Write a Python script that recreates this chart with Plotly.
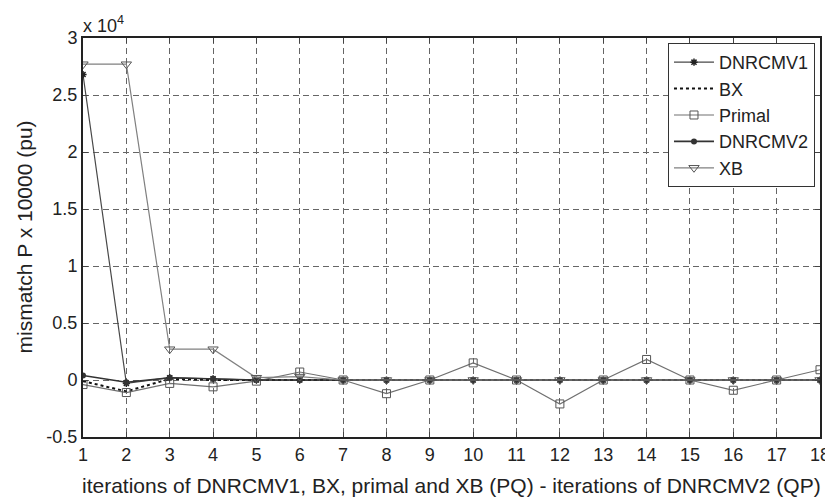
import plotly.graph_objects as go

iterations = list(range(1, 19))
dnrcmv1 = [2.68, -0.03, 0.02, 0.01, 0.0, 0.0, 0.0, 0.0, 0.0, 0.0, 0.0, 0.0, 0.0, 0.0, 0.0, 0.0, 0.0, 0.0]
bx = [-0.01, -0.10, 0.01, 0.0, 0.0, 0.0, 0.0, 0.0, 0.0, 0.0, 0.0, 0.0, 0.0, 0.0, 0.0, 0.0, 0.0, 0.0]
primal = [-0.04, -0.11, -0.03, -0.06, -0.01, 0.07, 0.0, -0.12, 0.0, 0.15, 0.0, -0.21, 0.0, 0.18, 0.0, -0.09, 0.0, 0.09]
dnrcmv2 = [0.04, -0.02, 0.02, 0.01, 0.0, 0.0, 0.0, 0.0, 0.0, 0.0, 0.0, 0.0, 0.0, 0.0, 0.0, 0.0, 0.0, 0.0]
xb = [2.77, 2.77, 0.27, 0.27, 0.02, 0.03, 0.0, 0.0, 0.0, 0.0, 0.0, 0.0, 0.0, 0.0, 0.0, 0.0, 0.0, 0.0]

y_ticks = [-0.5, 0, 0.5, 1, 1.5, 2, 2.5, 3]
y_tick_text = ["-0.5", "0", "0.5", "1", "1.5", "2", "2.5", "3"]

FONT = "Liberation Sans, Arial, sans-serif"
TXT = "#222222"

fig = go.Figure()
fig.add_trace(go.Scatter(x=iterations, y=dnrcmv1, name="DNRCMV1", mode="lines+markers",
                         line=dict(color="#484848", width=1.2),
                         marker=dict(symbol="asterisk-open", size=6, color="#222222",
                                     line=dict(width=1.5, color="#222222"))))
fig.add_trace(go.Scatter(x=iterations, y=bx, name="BX", mode="lines",
                         line=dict(color="#111111", width=2, dash="dot")))
fig.add_trace(go.Scatter(x=iterations, y=primal, name="Primal", mode="lines+markers",
                         line=dict(color="#707070", width=1.2),
                         marker=dict(symbol="square-open", size=8, color="#555555")))
fig.add_trace(go.Scatter(x=iterations, y=dnrcmv2, name="DNRCMV2", mode="lines+markers",
                         line=dict(color="#333333", width=1.6),
                         marker=dict(symbol="circle", size=6, color="#333333")))
fig.add_trace(go.Scatter(x=iterations, y=xb, name="XB", mode="lines+markers",
                         line=dict(color="#808080", width=1.2),
                         marker=dict(symbol="triangle-down-open", size=9, color="#555555")))

fig.update_layout(
    width=825, height=492,
    margin=dict(l=75, r=13, t=30, b=63),
    paper_bgcolor="white", plot_bgcolor="white",
    font=dict(family=FONT, size=18, color=TXT),
    showlegend=True,
    legend=dict(x=0.9932, y=0.9875, xanchor="right", yanchor="top",
                bgcolor="white", bordercolor="#333333", borderwidth=1,
                font=dict(size=18, family=FONT, color=TXT), traceorder="normal",
                itemwidth=40, tracegroupgap=0),
    xaxis=dict(range=[1, 18], tickvals=iterations, ticks="inside", ticklen=5,
               tickfont=dict(size=18, color=TXT),
               showgrid=True, gridcolor="#666666", griddash="6px,4px", gridwidth=1,
               showline=True, linecolor="#222222", linewidth=2, mirror="ticks",
               zeroline=False, automargin=False),
    yaxis=dict(range=[-0.5, 3], tickvals=y_ticks, ticktext=y_tick_text, ticks="inside", ticklen=5,
               tickfont=dict(size=18, color=TXT),
               showgrid=True, gridcolor="#666666", griddash="6px,4px", gridwidth=1,
               showline=True, linecolor="#222222", linewidth=2, mirror="ticks",
               zeroline=False, automargin=False),
)

# axis titles
fig.add_annotation(xref="paper", yref="paper", x=0.5, y=0, xanchor="center", yanchor="middle",
                   yshift=-48, text="iterations of DNRCMV1, BX, primal and XB (PQ) - iterations of DNRCMV2 (QP)",
                   showarrow=False, font=dict(size=21, family=FONT, color=TXT))
fig.add_annotation(xref="paper", yref="paper", x=0, y=0.5, xanchor="center", yanchor="middle",
                   xshift=-59, text="mismatch P x 10000 (pu)", textangle=-90,
                   showarrow=False, font=dict(size=21, family=FONT, color=TXT))
# exponent label
fig.add_annotation(xref="paper", yref="paper", x=0, y=1.0, xanchor="left", yanchor="bottom",
                   text="x 10<sup>4</sup>", showarrow=False, font=dict(size=18, family=FONT, color=TXT),
                   xshift=-2, yshift=0)

fig.write_html("out.html")
